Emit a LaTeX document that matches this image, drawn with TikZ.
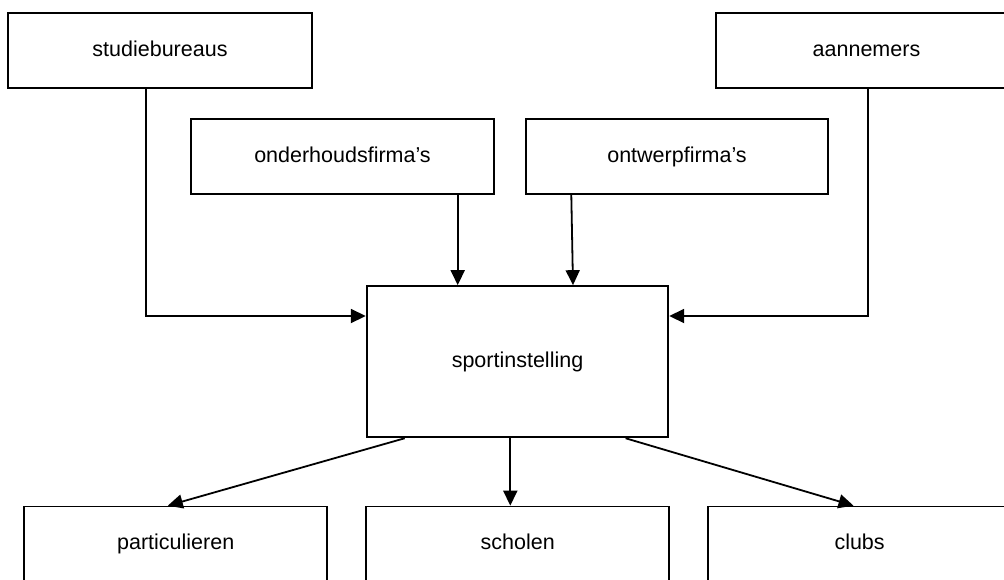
\documentclass[tikz,border=0pt]{standalone}
\usepackage{fontspec}
\setmainfont{Liberation Sans}
\usetikzlibrary{arrows.meta}
\tikzset{
  box/.style={draw=black, line width=1.8pt, fill=white, inner sep=0pt, text height=15.5pt, text depth=4.5pt, font=\fontsize{21.5}{26}\selectfont},
  arr/.style={line width=1.8pt, -{Triangle[length=15pt,width=14pt]}}
}
\begin{document}
\begin{tikzpicture}[x=1pt,y=-1pt]
\useasboundingbox (0,0) rectangle (1004,579);
\clip (0,0) rectangle (1004,579);
\fill[white] (0,0) rectangle (1004,579);
% top row
\node[box, minimum width=304pt, minimum height=75.5pt] (stud) at (160,50.5) {studiebureaus};
\node[box, minimum width=301pt, minimum height=75.5pt] (aann) at (866.5,50.5) {aannemers};
% second row
\node[box, minimum width=303.6pt, minimum height=75.6pt] (onder) at (342.5,156.5) {onderhoudsfirma’s};
\node[box, minimum width=302.6pt, minimum height=75.6pt] (ontw) at (677,156.5) {ontwerpfirma’s};
% centre
\node[box, minimum width=301.6pt, minimum height=151.3pt] (sport) at (517.5,361.7) {sportinstelling};
% bottom row
\node[box, minimum width=303pt, minimum height=74.5pt] (part) at (175.7,543.8) {particulieren};
\node[box, minimum width=303pt, minimum height=74.5pt] (schol) at (517.7,543.8) {scholen};
\node[box, minimum width=303pt, minimum height=74.5pt] (clubs) at (859.6,543.8) {clubs};
% connectors in
\draw[arr] ([xshift=-14.3pt]stud.south) |- ([yshift=45.7pt]sport.west);
\draw[arr] ([xshift=1.5pt]aann.south) |- ([yshift=45.7pt]sport.east);
\draw[arr] ([xshift=115.2pt]onder.south) -- ([xshift=-59.8pt]sport.north);
\draw[arr] ([xshift=-105.7pt]ontw.south) -- ([xshift=55.5pt]sport.north);
% connectors out
\draw[arr] ([xshift=-112.8pt]sport.south) -- ([xshift=-7.9pt]part.north);
\draw[arr] ([xshift=-7.2pt]sport.south) -- ([xshift=-7.4pt]schol.north);
\draw[arr] ([xshift=108.1pt]sport.south) -- ([xshift=-6.1pt]clubs.north);
\end{tikzpicture}
\end{document}
